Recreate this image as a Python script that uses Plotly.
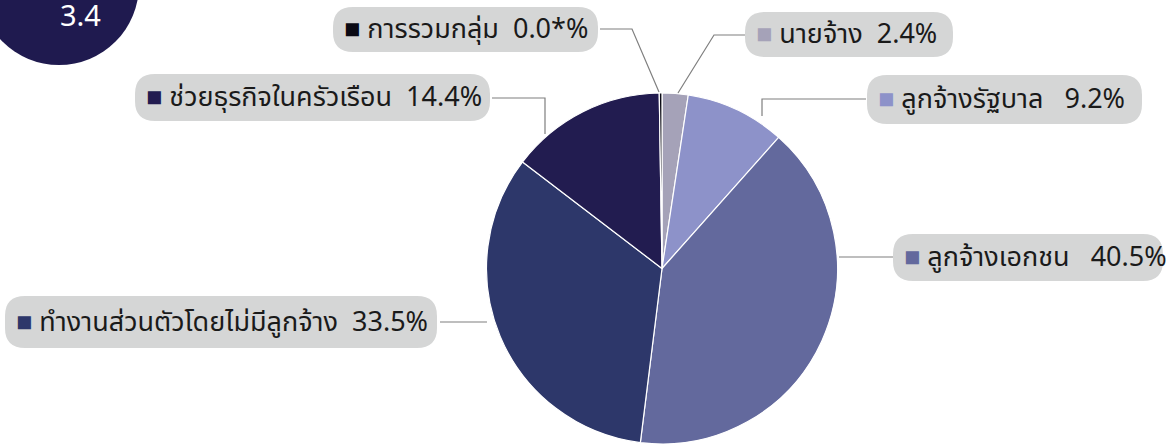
import plotly.graph_objects as go

W, H = 1168, 444

categories = ["นายจ้าง", "ลูกจ้างรัฐบาล", "ลูกจ้างเอกชน",
              "ทำงานส่วนตัวโดยไม่มีลูกจ้าง", "ช่วยธุรกิจในครัวเรือน", "การรวมกลุ่ม"]
values = [2.4, 9.2, 40.5, 33.5, 14.4, 0.25]
value_labels = ["2.4%", "9.2%", "40.5%", "33.5%", "14.4%", "0.0*%"]
colors = ["#a5a2b8", "#8d92c9", "#63699d", "#2d376a", "#221c50", "#0a0a14"]

def px(x):
    return x / W

def py(y):
    return 1 - y / H

# pie geometry (pixels)
cx, cy, r = 662, 269, 176

fig = go.Figure()
fig.add_trace(go.Pie(
    labels=categories, values=values, sort=False, direction="clockwise",
    rotation=0, textinfo="none", hoverinfo="label+percent",
    marker=dict(colors=colors, line=dict(color="white", width=1.2)),
    domain=dict(x=[px(cx - r), px(cx + r)], y=[max(0, py(cy + r)), py(cy - r)]),
    showlegend=False,
))

shapes = []
annotations = []

# top-left badge
shapes.append(dict(type="circle", xref="paper", yref="paper",
                   x0=px(-21), x1=px(139), y0=py(65), y1=py(-95),
                   fillcolor="#1f1a4f", line=dict(width=0), layer="above"))
annotations.append(dict(x=px(58), y=py(14), xref="paper", yref="paper",
                        text="3.4", showarrow=False, yanchor="middle",
                        font=dict(color="white", size=29, family="Noto Sans, sans-serif")))

def rounded_box(x0, y0, x1, y1, rad):
    def P(x, y):
        return f"{px(x):.5f},{py(y):.5f}"
    path = (f"M {P(x0 + rad, y0)} L {P(x1 - rad, y0)} Q {P(x1, y0)} {P(x1, y0 + rad)} "
            f"L {P(x1, y1 - rad)} Q {P(x1, y1)} {P(x1 - rad, y1)} "
            f"L {P(x0 + rad, y1)} Q {P(x0, y1)} {P(x0, y1 - rad)} "
            f"L {P(x0, y0 + rad)} Q {P(x0, y0)} {P(x0 + rad, y0)} Z")
    return dict(type="path", xref="paper", yref="paper", path=path,
                fillcolor="#d5d6d6", line=dict(width=0), layer="above")

# label boxes: (x0, y0, x1, y1) pixels, and leader polyline pixels
boxes = [
    (745, 12, 953, 57),     # นายจ้าง
    (867, 75, 1142, 124),   # ลูกจ้างรัฐบาล
    (893, 234, 1163, 281),  # ลูกจ้างเอกชน
    (5, 296, 437, 348),     # ทำงานส่วนตัว
    (135, 74, 490, 121),    # ช่วยธุรกิจ
    (333, 7, 598, 52),      # การรวมกลุ่ม
]
leaders = [
    [(745, 35), (714, 35), (678, 93)],
    [(866, 99), (762, 99), (762, 116)],
    [(893, 257), (839, 257)],
    [(440, 322), (487, 322)],
    [(492, 98), (545, 98), (545, 134)],
    [(600, 29), (632, 29), (659, 92)],
]
gaps = ["  ", "   ", "   ", "  ", "  ", "  "]

for i, (b, ld) in enumerate(zip(boxes, leaders)):
    x0, y0, x1, y1 = b
    shapes.append(rounded_box(x0, y0, x1, y1, 20))
    path = "M " + " L ".join(f"{px(x):.5f},{py(y):.5f}" for x, y in ld)
    shapes.append(dict(type="path", xref="paper", yref="paper", path=path,
                       line=dict(color="#7f7f7f", width=1.2), layer="above"))
    txt = (f"<span style='color:{colors[i]}'>■</span> {categories[i]}"
           f"{gaps[i]}{value_labels[i]}")
    annotations.append(dict(x=px(x0 + 9), y=py((y0 + y1) / 2), xref="paper", yref="paper",
                            xanchor="left", yanchor="middle", text=txt, showarrow=False,
                            font=dict(color="#1a1a1a", size=27,
                                      family="Noto Sans Thai, Tahoma, Noto Sans, sans-serif")))

fig.update_layout(width=W, height=H, margin=dict(l=0, r=0, t=0, b=0),
                  paper_bgcolor="white", plot_bgcolor="white",
                  shapes=shapes, annotations=annotations)

fig.write_html("out.html", config={"displayModeBar": False},
               post_script="document.body.style.margin='0';")
